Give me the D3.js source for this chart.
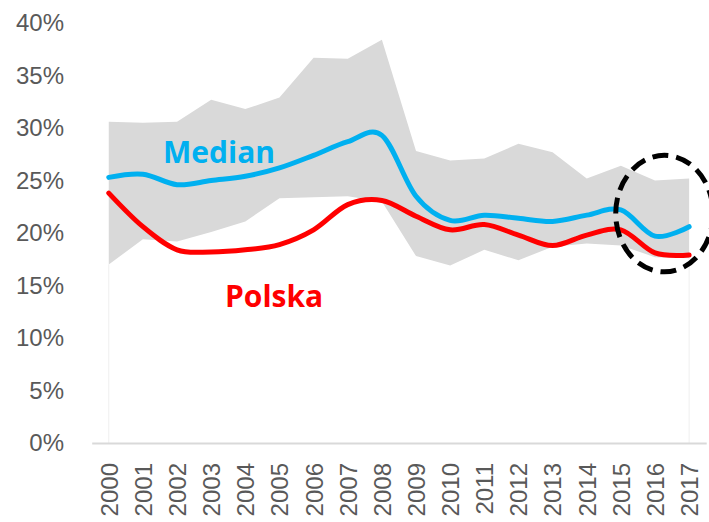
<!DOCTYPE html>
<html>
<head>
<meta charset="utf-8">
<script src="https://cdn.jsdelivr.net/npm/d3@7"></script>
<style>
  body { margin: 0; background: #fff; }
  svg { display: block; font-family: "Open Sans", "Noto Sans", sans-serif; }
</style>
</head>
<body>
<svg id="chart" width="709" height="522"></svg>
<script>
var years = [2000, 2001, 2002, 2003, 2004, 2005, 2006, 2007, 2008,
             2009, 2010, 2011, 2012, 2013, 2014, 2015, 2016, 2017];

// range of the countries (gray band), in %
var bandMax = [30.6, 30.5, 30.6, 32.7, 31.8, 32.9, 36.7, 36.6, 38.4,
               27.8, 26.9, 27.1, 28.5, 27.7, 25.2, 26.4, 25.0, 25.2];
var bandMin = [17.0, 19.4, 19.2, 20.1, 21.1, 23.3, 23.4, 23.5, 23.0,
               17.8, 16.9, 18.4, 17.4, 18.7, 19.0, 18.8, 17.7, 17.6];

var median = [25.3, 25.6, 24.6, 25.0, 25.4, 26.2, 27.4, 28.7, 29.3,
              23.5, 21.2, 21.7, 21.4, 21.1, 21.7, 22.2, 19.7, 20.6];
var polska = [23.8, 20.6, 18.4, 18.2, 18.4, 18.9, 20.3, 22.7, 23.1,
              21.6, 20.3, 20.8, 19.8, 18.8, 19.8, 20.3, 18.1, 17.9];

var yTicks = [0, 5, 10, 15, 20, 25, 30, 35, 40];

// dashed ellipse around the last years: x span in years, y span in %
var highlightYears = [2014.85, 2017.7];
var highlightValues = [16.3, 27.4];

var svg = d3.select("#chart");

var xScale = d3.scalePoint()
    .domain(years)
    .range([91.7, 706.2])
    .padding(0.5);

var yScale = d3.scaleLinear()
    .domain([0, 40])
    .range([443, 23]);

// year -> pixel, also for fractional years
var step = xScale.step();
function xPos(yr) { return xScale(2000) + (yr - 2000) * step; }

// gray band
var area = d3.area()
    .x(function(d, i) { return xScale(years[i]); })
    .y0(function(d, i) { return yScale(bandMin[i]); })
    .y1(function(d, i) { return yScale(bandMax[i]); });

svg.append("path")
    .datum(years)
    .attr("fill", "#d9d9d9")
    .attr("d", area);

// faint edges down to the axis
[0, years.length - 1].forEach(function(i) {
    svg.append("line")
        .attr("x1", xScale(years[i])).attr("x2", xScale(years[i]))
        .attr("y1", yScale(bandMin[i])).attr("y2", yScale(0))
        .attr("stroke", "#efefef")
        .attr("stroke-width", 1);
});

// x axis
var xAxis = svg.append("g")
    .attr("transform", "translate(0," + yScale(0) + ")")
    .call(d3.axisBottom(xScale).tickSize(0).tickPadding(0));
xAxis.select(".domain").attr("stroke", "#d9d9d9").attr("stroke-width", 2);
xAxis.selectAll("text")
    .attr("fill", "#595959")
    .style("font-size", "24px")
    .attr("text-anchor", "end")
    .attr("dy", "0.35em")
    .attr("transform", "translate(0,20) rotate(-90)");

// y axis
var yAxis = svg.append("g")
    .attr("transform", "translate(64,0)")
    .call(d3.axisLeft(yScale).tickValues(yTicks).tickSize(0).tickPadding(0)
        .tickFormat(function(d) { return d + "%"; }));
yAxis.select(".domain").remove();
yAxis.selectAll("text")
    .attr("fill", "#595959")
    .style("font-size", "24px");

// lines
var line = d3.line()
    .x(function(d, i) { return xScale(years[i]); })
    .y(function(d) { return yScale(d); })
    .curve(d3.curveCardinal.tension(0));

svg.append("path")
    .datum(median)
    .attr("fill", "none")
    .attr("stroke", "#00b0f0")
    .attr("stroke-width", 5)
    .attr("stroke-linecap", "round")
    .attr("d", line);

svg.append("path")
    .datum(polska)
    .attr("fill", "none")
    .attr("stroke", "#ff0000")
    .attr("stroke-width", 5)
    .attr("stroke-linecap", "round")
    .attr("d", line);

// labels
svg.append("text")
    .attr("x", 163).attr("y", 163)
    .attr("fill", "#00b0f0")
    .style("font-size", "30px")
    .style("font-weight", "bold")
    .text("Median");

svg.append("text")
    .attr("x", 225).attr("y", 307)
    .attr("fill", "#ff0000")
    .style("font-size", "30px")
    .style("font-weight", "bold")
    .text("Polska");

// dashed ellipse
var ex0 = xPos(highlightYears[0]), ex1 = xPos(highlightYears[1]);
var ey0 = yScale(highlightValues[1]), ey1 = yScale(highlightValues[0]);
svg.append("ellipse")
    .attr("cx", (ex0 + ex1) / 2)
    .attr("cy", (ey0 + ey1) / 2)
    .attr("rx", (ex1 - ex0) / 2)
    .attr("ry", (ey1 - ey0) / 2)
    .attr("fill", "none")
    .attr("stroke", "#000")
    .attr("stroke-width", 5)
    .attr("stroke-dasharray", "16,8");
</script>
</body>
</html>
